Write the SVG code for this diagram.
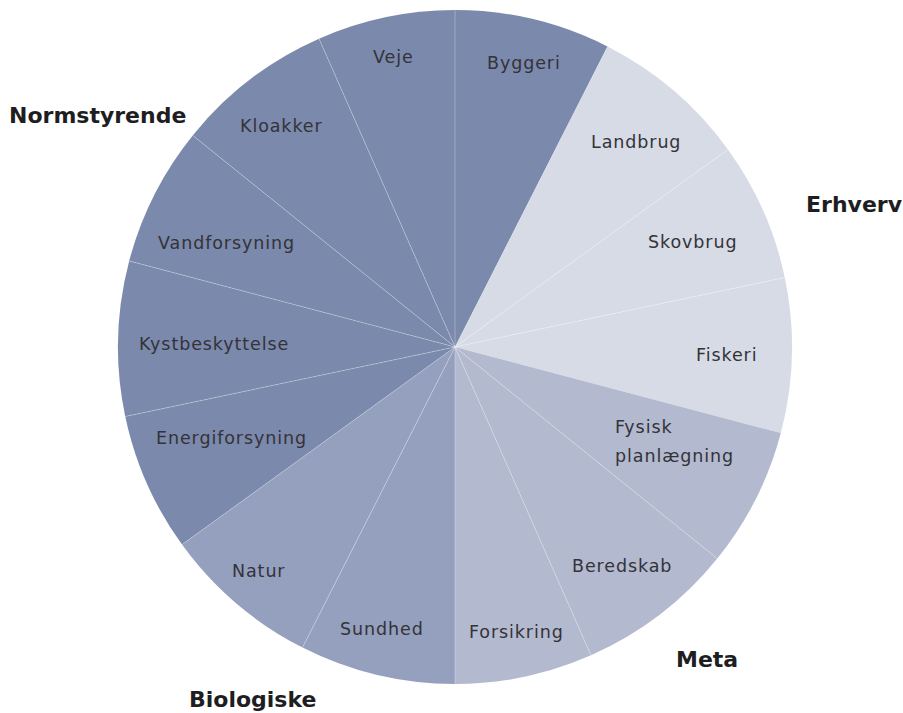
<svg xmlns="http://www.w3.org/2000/svg" width="903" height="713" viewBox="0 0 903 713">
  <style>
    .norm { fill: #7b89ac; }
    .erh { fill: #d7dbe6; }
    .meta { fill: #b3b9cf; }
    .bio { fill: #95a0bf; }
    .lbl { font-family: "DejaVu Sans", "Liberation Sans", sans-serif; font-size: 17.5px; letter-spacing: 0.9px; fill: #333338; }
    .grp { font-family: "DejaVu Sans", "Liberation Sans", sans-serif; font-size: 22px; font-weight: bold; fill: #1e1e22; }
    .sep { stroke: #ffffff; stroke-opacity: 0.35; stroke-width: 0.8; fill: none; }
  </style>
  <rect width="903" height="713" fill="#ffffff"/>

  <!-- pie slices, clockwise from 12 o'clock; centre (455,347), r=337 -->
  <g id="byggeri">
    <path class="norm" d="M455 347 L455 10 A337 337 0 0 1 607.47 46.46 Z"/>
    <text class="lbl" x="487" y="69">Byggeri</text>
  </g>
  <g id="landbrug">
    <path class="erh" d="M455 347 L607.47 46.46 A337 337 0 0 1 727.98 149.39 Z"/>
    <text class="lbl" x="591" y="148">Landbrug</text>
  </g>
  <g id="skovbrug">
    <path class="erh" d="M455 347 L727.98 149.39 A337 337 0 0 1 784.76 277.51 Z"/>
    <text class="lbl" x="648" y="248">Skovbrug</text>
  </g>
  <g id="fiskeri">
    <path class="erh" d="M455 347 L784.76 277.51 A337 337 0 0 1 780.82 433.09 Z"/>
    <text class="lbl" x="696" y="361">Fiskeri</text>
  </g>
  <g id="fysisk-planlaegning">
    <path class="meta" d="M455 347 L780.82 433.09 A337 337 0 0 1 717.27 558.62 Z"/>
    <text class="lbl" x="615" y="433">Fysisk</text>
    <text class="lbl" x="615" y="462">planlægning</text>
  </g>
  <g id="beredskab">
    <path class="meta" d="M455 347 L717.27 558.62 A337 337 0 0 1 591 655.34 Z"/>
    <text class="lbl" x="572" y="572">Beredskab</text>
  </g>
  <g id="forsikring">
    <path class="meta" d="M455 347 L591 655.34 A337 337 0 0 1 455 684 Z"/>
    <text class="lbl" x="469" y="638">Forsikring</text>
  </g>
  <g id="sundhed">
    <path class="bio" d="M455 347 L455 684 A337 337 0 0 1 302.53 647.54 Z"/>
    <text class="lbl" x="340" y="635">Sundhed</text>
  </g>
  <g id="natur">
    <path class="bio" d="M455 347 L302.53 647.54 A337 337 0 0 1 182.02 544.61 Z"/>
    <text class="lbl" x="232" y="577">Natur</text>
  </g>
  <g id="energiforsyning">
    <path class="norm" d="M455 347 L182.02 544.61 A337 337 0 0 1 125.24 416.49 Z"/>
    <text class="lbl" x="156" y="444">Energiforsyning</text>
  </g>
  <g id="kystbeskyttelse">
    <path class="norm" d="M455 347 L125.24 416.49 A337 337 0 0 1 129.18 260.91 Z"/>
    <text class="lbl" x="139" y="350">Kystbeskyttelse</text>
  </g>
  <g id="vandforsyning">
    <path class="norm" d="M455 347 L129.18 260.91 A337 337 0 0 1 192.73 135.38 Z"/>
    <text class="lbl" x="158" y="249">Vandforsyning</text>
  </g>
  <g id="kloakker">
    <path class="norm" d="M455 347 L192.73 135.38 A337 337 0 0 1 319 38.66 Z"/>
    <text class="lbl" x="240" y="132">Kloakker</text>
  </g>
  <g id="veje">
    <path class="norm" d="M455 347 L319 38.66 A337 337 0 0 1 455 10 Z"/>
    <text class="lbl" x="373" y="63">Veje</text>
  </g>

  <!-- thin dividers between neighbouring slices -->
  <g id="connectors">
    <path class="sep" d="M455 347 L455 10 M455 347 L727.98 149.39 M455 347 L784.76 277.51 M455 347 L717.27 558.62 M455 347 L591 655.34 M455 347 L455 684 M455 347 L302.53 647.54 M455 347 L182.02 544.61 M455 347 L125.24 416.49 M455 347 L129.18 260.91 M455 347 L192.73 135.38 M455 347 L319 38.66"/>
  </g>

  <!-- group headings -->
  <g id="groups">
    <text class="grp" x="9" y="123">Normstyrende</text>
    <text class="grp" x="806" y="212">Erhverv</text>
    <text class="grp" x="676" y="667">Meta</text>
    <text class="grp" x="189" y="707">Biologiske</text>
  </g>
</svg>
